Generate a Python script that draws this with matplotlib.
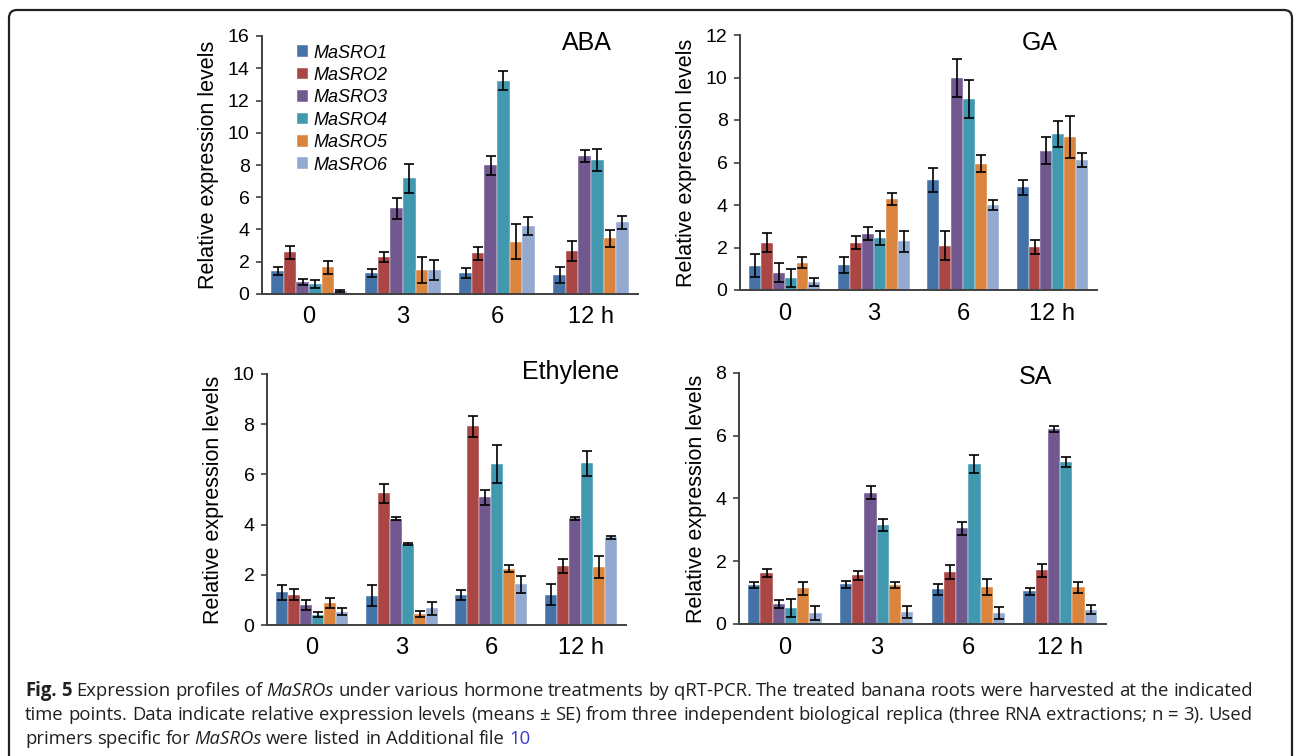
import matplotlib
matplotlib.use('Agg')
import matplotlib.pyplot as plt
import numpy as np
from matplotlib.patches import FancyBboxPatch

plt.rcParams['font.family'] = ['Liberation Sans', 'DejaVu Sans']

genes = ['MaSRO1', 'MaSRO2', 'MaSRO3', 'MaSRO4', 'MaSRO5', 'MaSRO6']
times = ['0', '3', '6', '12 h']
colors = ['#4572A7', '#AA4643', '#71588F', '#4198AF', '#DB843D', '#93A9CF']

# rows = time points, columns = MaSRO1..6
aba_mean = [[1.45, 2.58, 0.76, 0.60, 1.65, 0.20],
            [1.28, 2.30, 5.31, 7.17, 1.49, 1.49],
            [1.32, 2.52, 7.98, 13.24, 3.24, 4.21],
            [1.18, 2.67, 8.57, 8.33, 3.45, 4.44]]
aba_err = [[0.25, 0.40, 0.20, 0.25, 0.40, 0.05],
           [0.25, 0.30, 0.67, 0.88, 0.78, 0.60],
           [0.30, 0.40, 0.60, 0.57, 1.08, 0.55],
           [0.50, 0.60, 0.38, 0.69, 0.52, 0.40]]

ga_mean = [[1.15, 2.23, 0.82, 0.58, 1.29, 0.38],
           [1.16, 2.23, 2.65, 2.43, 4.28, 2.30],
           [5.18, 2.09, 9.96, 9.00, 5.95, 4.00],
           [4.83, 2.02, 6.56, 7.33, 7.20, 6.12]]
ga_err = [[0.55, 0.44, 0.45, 0.43, 0.27, 0.20],
          [0.38, 0.30, 0.30, 0.33, 0.29, 0.49],
          [0.58, 0.69, 0.89, 0.89, 0.42, 0.24],
          [0.35, 0.31, 0.64, 0.62, 1.00, 0.31]]

eth_mean = [[1.30, 1.20, 0.80, 0.40, 0.88, 0.53],
            [1.16, 5.24, 4.24, 3.22, 0.44, 0.66],
            [1.21, 7.91, 5.08, 6.40, 2.25, 1.62],
            [1.21, 2.34, 4.26, 6.45, 2.30, 3.50]]
eth_err = [[0.31, 0.22, 0.20, 0.10, 0.20, 0.13],
           [0.42, 0.39, 0.07, 0.04, 0.13, 0.25],
           [0.20, 0.43, 0.30, 0.76, 0.15, 0.34],
           [0.43, 0.28, 0.06, 0.50, 0.44, 0.06]]

sa_mean = [[1.25, 1.62, 0.64, 0.51, 1.14, 0.35],
           [1.27, 1.55, 4.19, 3.16, 1.25, 0.38],
           [1.11, 1.65, 3.05, 5.10, 1.19, 0.35],
           [1.04, 1.71, 6.21, 5.15, 1.17, 0.46]]
sa_err = [[0.10, 0.12, 0.13, 0.29, 0.20, 0.22],
          [0.11, 0.15, 0.22, 0.20, 0.10, 0.20],
          [0.17, 0.22, 0.20, 0.28, 0.26, 0.20],
          [0.12, 0.20, 0.10, 0.16, 0.18, 0.15]]

W, H = 1295, 756
fig = plt.figure(figsize=(W / 100, H / 100), dpi=100)


def px_axes(left, top, right, bottom):
    return fig.add_axes([left / W, 1 - bottom / H, (right - left) / W, (bottom - top) / H])


def draw_panel(ax, means, errs, ymax, step, title, tx, ty):
    means = np.array(means)
    errs = np.array(errs)
    x = np.arange(len(times))
    w = 0.8 / len(genes)
    for j, g in enumerate(genes):
        ax.bar(x + (j - 2.5) * w, means[:, j], w, yerr=errs[:, j],
               color=colors[j], edgecolor='white', linewidth=0.3, label=g,
               error_kw=dict(ecolor='black', elinewidth=1.2, capsize=3.5, capthick=1.2))
    ax.set_xlim(-0.5, 3.5)
    ax.set_ylim(0, ymax)
    ax.set_yticks(np.arange(0, ymax + 0.01, step))
    ax.set_xticks(x)
    ax.set_xticklabels(times, fontsize=17)
    ax.tick_params(axis='x', length=0, pad=9)
    ax.tick_params(axis='y', labelsize=14, length=4, width=1.2, pad=5, color='#404040')
    for s in ['top', 'right']:
        ax.spines[s].set_visible(False)
    for s in ['left', 'bottom']:
        ax.spines[s].set_linewidth(1.4)
        ax.spines[s].set_color('#404040')
    ax.set_ylabel('Relative expression levels', fontsize=15.5, labelpad=6)
    ax.text(tx, ty, title, transform=ax.transAxes, fontsize=18, ha='center', va='center')


ax1 = px_axes(262, 36, 638, 294)
draw_panel(ax1, aba_mean, aba_err, 16, 2, 'ABA', 0.864, 0.973)
leg = ax1.legend(loc='upper left', bbox_to_anchor=(0.05, 1.03), frameon=False,
                 handlelength=0.6, handleheight=0.6, handletextpad=0.3,
                 labelspacing=0.3, prop=dict(size=13, style='italic'))

ax2 = px_axes(740, 35, 1097, 290)
draw_panel(ax2, ga_mean, ga_err, 12, 2, 'GA', 0.84, 0.97)

ax3 = px_axes(267, 374, 626, 625)
draw_panel(ax3, eth_mean, eth_err, 10, 2, 'Ethylene', 0.847, 1.008)

ax4 = px_axes(739, 373, 1106, 624)
draw_panel(ax4, sa_mean, sa_err, 8, 2, 'SA', 0.807, 0.984)

# rounded frame, open at the bottom edge of the image
frame = FancyBboxPatch((9, -20), 1283, H - 10 + 20, boxstyle='round,pad=0,rounding_size=8',
                       transform=None, facecolor='none', edgecolor='#222222', linewidth=1.6)
fig.patches.append(frame)

# caption
cap_color = '#231f20'
line1 = [('Fig.', 'b'), ('5', 'b'), ('Expression', 'n'), ('profiles', 'n'), ('of', 'n'),
         ('MaSROs', 'i'), ('under', 'n'), ('various', 'n'), ('hormone', 'n'),
         ('treatments', 'n'), ('by', 'n'), ('qRT-PCR.', 'n'), ('The', 'n'), ('treated', 'n'),
         ('banana', 'n'), ('roots', 'n'), ('were', 'n'), ('harvested', 'n'), ('at', 'n'),
         ('the', 'n'), ('indicated', 'n')]
line2 = [(wd, 'n') for wd in ('time points. Data indicate relative expression levels '
                              '(means ± SE) from three independent biological replica '
                              '(three RNA extractions; n = 3). Used').split(' ')]
line3 = [('primers', 'n'), ('specific', 'n'), ('for', 'n'), ('MaSROs', 'i'), ('were', 'n'),
         ('listed', 'n'), ('in', 'n'), ('Additional', 'n'), ('file', 'n'), ('10', 'l')]

renderer = fig.canvas.get_renderer()
cap_kw = dict(fontsize=12.5, family=['Open Sans', 'DejaVu Sans'], va='baseline')
x0, x1 = 25, 1253


def make_words(tokens, ybase, size):
    texts = []
    for word, st in tokens:
        kw = dict(cap_kw)
        kw['fontsize'] = size
        kw['color'] = '#3a3ad6' if st == 'l' else cap_color
        if st == 'b':
            kw['weight'] = 'bold'
        if st == 'i':
            kw['style'] = 'italic'
        texts.append(fig.text(0, 1 - ybase / H, word, **kw))
    return texts


# pick the caption size so that line 1 with normal spaces fills the text width
probe = make_words(line1, 693, 12)
pw = sum(t.get_window_extent(renderer).width for t in probe)
sp = fig.text(0, 0, 'a a', fontsize=12, family=['Open Sans'])
sp2 = fig.text(0, 0, 'aa', fontsize=12, family=['Open Sans'])
space12 = sp.get_window_extent(renderer).width - sp2.get_window_extent(renderer).width
natural = pw + space12 * (len(line1) - 1)
for t in probe + [sp, sp2]:
    t.remove()
cap_size = 12 * (x1 - x0) / natural
space = space12 * cap_size / 12


def caption_line(tokens, ybase, justify):
    texts = make_words(tokens, ybase, cap_size)
    widths = [t.get_window_extent(renderer).width for t in texts]
    if justify:
        gap = (x1 - x0 - sum(widths)) / (len(texts) - 1)
    else:
        gap = space
    x = x0
    for (word, st), t, wd in zip(tokens, texts, widths):
        shift = 2 if (st == 'i' and not justify) else 0
        t.set_x((x - shift) / W)
        x += wd + gap - shift


caption_line(line1, 696, True)
caption_line(line2, 720, True)
caption_line(line3, 744, False)

fig.savefig('out.png', dpi=100)
